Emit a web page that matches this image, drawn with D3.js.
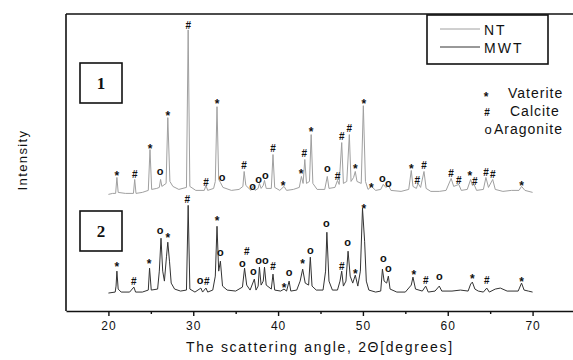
<!DOCTYPE html>
<html>
<head>
<meta charset="utf-8">
<script src="https://cdn.jsdelivr.net/npm/d3@7"></script>
<style>
  body { margin: 0; background: #fff; }
  svg { display: block; }
  text { font-family: "Liberation Sans", Arial, sans-serif; fill: #111; }
</style>
</head>
<body>
<div id="chart"></div>
<script>
// Series names and phase legend
const seriesNames = ["NT", "MWT"];
const phaseSymbols = ["*", "#", "o"];
const phaseNames = ["Vaterite", "Calcite", "Aragonite"];
const panelLabels = ["1", "2"];

// Axis ticks (2 theta, degrees)
const xTicks = [20, 30, 40, 50, 60, 70];
const xMinorTicks = [25, 35, 45, 55, 65];

// NT trace (upper), [2theta, intensity a.u.]
const ntPoints = [
  [20.0,117],[20.5,118],[20.85,118],[21.0,134],[21.15,119],[22.0,118],[22.95,118],[23.1,132],[23.25,118],
  [24.0,119],[24.7,121],[24.9,162],[25.1,122],[25.7,123],[26.0,124],[26.15,132],[26.3,125],[26.8,128],
  [27.0,194],[27.25,130],[27.6,125],[28.3,122],[29.2,124],[29.4,282],[29.6,125],[30.3,121],[31.3,121],
  [31.5,126],[31.7,121],[32.4,123],[32.6,130],[32.8,205],[33.0,132],[33.2,129],[33.5,124],[34.5,121],
  [35.4,122],[35.85,125],[36.0,140],[36.2,126],[36.8,121],[37.1,126],[37.3,121],[37.65,123],[37.8,128],
  [38.0,123],[38.25,126],[38.4,131],[38.6,123],[39.2,123],[39.4,157],[39.6,124],[40.2,121],[40.7,125],
  [41.0,121],[41.8,122],[42.5,124],[42.75,135],[42.95,128],[43.15,152],[43.35,128],[43.7,130],[43.9,177],
  [44.1,128],[44.6,122],[45.5,122],[45.8,135],[46.0,123],[46.7,124],[47.0,131],[47.2,127],[47.5,169],
  [47.7,128],[48.1,130],[48.4,177],[48.6,130],[48.9,134],[49.1,140],[49.3,130],[49.8,128],[50.05,206],
  [50.3,130],[50.6,122],[51.0,125],[51.5,121],[52.1,122],[52.4,127],[52.7,124],[53.0,126],[53.3,121],
  [54.5,120],[55.4,122],[55.7,141],[55.9,125],[56.3,123],[56.5,128],[56.8,124],[57.2,140],[57.45,123],
  [58.0,120],[59.0,120],[59.8,121],[60.4,133],[60.7,125],[61.3,127],[61.6,121],[62.3,122],[62.7,132],
  [62.9,126],[63.1,127],[63.4,121],[64.2,122],[64.5,134],[64.8,124],[65.3,132],[65.6,122],[66.5,120],
  [67.5,121],[68.4,121],[68.7,125],[69.1,121],[70.0,119]
];

// MWT trace (lower)
const mwtPoints = [
  [20.0,18],[20.8,19],[20.9,25],[21.0,40],[21.15,22],[21.5,19],[22.5,19],[23.0,24],[23.2,19],[24.0,19],
  [24.7,21],[24.85,43],[25.05,21],[25.8,22],[26.0,40],[26.2,73],[26.4,40],[26.6,30],[26.85,55],[27.0,69],
  [27.2,50],[27.4,28],[27.8,22],[28.5,20],[29.2,21],[29.4,106],[29.6,22],[30.2,19],[30.9,23],[31.1,19],
  [31.5,23],[31.7,19],[32.3,21],[32.6,35],[32.8,85],[33.0,40],[33.2,50],[33.45,25],[34.0,21],[35.0,20],
  [35.8,24],[36.05,43],[36.3,26],[36.7,21],[37.2,32],[37.4,21],[37.65,25],[37.8,44],[38.0,26],[38.25,30],
  [38.4,44],[38.6,26],[39.2,22],[39.4,37],[39.6,21],[40.3,20],[40.7,22],[41.0,20],[41.3,30],[41.5,20],
  [42.2,21],[42.6,30],[42.9,42],[43.2,28],[43.6,26],[43.8,54],[44.0,25],[44.5,21],[45.3,21],[45.6,40],
  [45.75,79],[46.0,30],[46.4,21],[47.0,21],[47.3,30],[47.5,40],[47.7,25],[48.0,30],[48.25,60],[48.5,35],
  [48.8,28],[49.1,36],[49.4,25],[49.7,40],[49.95,103],[50.2,70],[50.4,30],[50.7,21],[51.5,19],[52.1,20],
  [52.3,42],[52.5,30],[52.8,28],[53.0,35],[53.2,22],[54.0,19],[55.0,19],[55.7,26],[55.9,34],[56.2,22],
  [57.0,20],[57.4,25],[57.7,19],[58.5,20],[59.0,25],[59.3,20],[60.5,20],[61.5,21],[62.4,20],[62.7,27],
  [62.9,29],[63.2,22],[63.6,20],[64.2,19],[64.6,23],[64.9,19],[65.6,22],[66.2,23],[67.0,20],[68.3,20],
  [68.7,28],[69.0,21],[69.5,20],[70.0,19]
];

// Phase marks above peaks: [symbol, 2theta, level]
const ntMarks = [
  ["*",21.0,139],["#",23.1,137],["*",24.9,166],["o",26.1,139],["*",27.0,199],["#",29.4,287],
  ["#",31.5,129],["*",32.8,211],["o",33.4,133],["#",36.0,146],["o",37.0,124],["o",37.7,131],
  ["o",38.5,135],["#",39.4,163],["*",40.6,129],["*",42.7,141],["#",43.1,158],["*",43.9,183],
  ["o",45.8,142],["#",47.0,135],["#",47.5,175],["#",48.4,183],["*",49.1,146],["*",50.1,211],
  ["*",51.0,127],["o",52.3,132],["o",53.0,127],["*",55.7,146],["#",56.4,131],["#",57.2,146],
  ["#",60.4,138],["#",61.3,131],["*",62.6,139],["#",63.2,130],["#",64.5,139],["#",65.3,137],
  ["*",68.7,129]
];
const mwtMarks = [
  ["*",21.0,48],["#",23.0,30],["*",24.8,51],["o",26.1,80],["*",27.0,77],["#",29.3,112],
  ["o",30.8,30],["#",31.6,30],["*",32.8,94],["o",33.2,58],["#",36.3,60],["o",35.8,47],
  ["o",37.1,39],["o",37.7,50],["o",38.5,50],["#",39.4,45],["*",40.7,27],["o",41.3,38],
  ["*",42.9,51],["o",43.8,60],["o",45.7,87],["#",47.5,45],["o",48.2,68],["*",49.1,41],
  ["*",50.1,106],["o",52.4,52],["o",53.0,42],["*",56.0,40],["#",57.4,31],["o",59.0,34],
  ["*",62.9,36],["#",64.6,31],["*",68.7,33]
];

// Layout
const W = 573, H = 360;
const plotLeft = 66, plotTop = 14, plotBottom = 311;
const seriesColors = ["#a0a0a0", "#333333"];

// glyph styling per symbol: font size and baseline shift to centre the glyph
const glyph = {
  "*": { size: 12, dy: 0.62 },
  "#": { size: 10, dy: 0.36 },
  "o": { size: 11, dy: 0.27 }
};

const svg = d3.select("#chart").append("svg")
  .attr("width", W).attr("height", H);

const x = d3.scaleLinear().domain([15, 75]).range([plotLeft, 575]);
const y = d3.scaleLinear().domain([0, 298]).range([plotBottom, plotTop]);

const line = d3.line().x(d => x(d[0])).y(d => y(d[1]));

// traces
[ntPoints, mwtPoints].forEach((pts, i) => {
  svg.append("path")
    .datum(pts)
    .attr("d", line)
    .attr("fill", "none")
    .attr("stroke", seriesColors[i])
    .attr("stroke-width", 1)
    .attr("stroke-linejoin", "round");
});

// phase marks
function drawMarks(marks) {
  svg.append("g").selectAll("text")
    .data(marks)
    .enter()
    .append("text")
    .attr("x", d => x(d[1]))
    .attr("y", d => y(d[2]) + glyph[d[0]].size * glyph[d[0]].dy)
    .attr("text-anchor", "middle")
    .style("font-size", d => glyph[d[0]].size + "px")
    .style("font-weight", "bold")
    .text(d => d[0]);
}
drawMarks(ntMarks);
drawMarks(mwtMarks);

// frame: top and left border, bottom axis
const frame = svg.append("g").attr("stroke", "#111").attr("stroke-width", 1.6).attr("fill", "none");
frame.append("line").attr("x1", plotLeft).attr("x2", W).attr("y1", plotTop).attr("y2", plotTop);
frame.append("line").attr("x1", plotLeft).attr("x2", plotLeft).attr("y1", plotTop).attr("y2", plotBottom);

const xAxis = svg.append("g")
  .attr("transform", `translate(0,${plotBottom})`)
  .call(d3.axisBottom(x).tickValues(xTicks).tickSize(5).tickSizeOuter(0).tickPadding(5));
xAxis.select(".domain").attr("stroke", "#111").attr("stroke-width", 1.6);
xAxis.selectAll(".tick line").attr("stroke", "#111").attr("stroke-width", 1.4);
xAxis.selectAll(".tick text")
  .style("font-size", "12px")
  .style("letter-spacing", "1px")
  .style("font-family", "'Liberation Sans', Arial, sans-serif")
  .attr("fill", "#222");

const minor = svg.append("g")
  .attr("transform", `translate(0,${plotBottom})`)
  .call(d3.axisBottom(x).tickValues(xMinorTicks).tickSize(3).tickFormat(""));
minor.select(".domain").remove();
minor.selectAll(".tick line").attr("stroke", "#111").attr("stroke-width", 1.4);

// axis titles
svg.append("text")
  .attr("x", 320).attr("y", 352)
  .attr("text-anchor", "middle")
  .style("font-size", "14px")
  .style("letter-spacing", "1.7px")
  .text("The scattering angle, 2\u0398[degrees]");

svg.append("text")
  .attr("transform", "translate(27,160) rotate(-90)")
  .attr("text-anchor", "middle")
  .style("font-size", "13px")
  .style("letter-spacing", "1.4px")
  .text("Intensity");

// panel labels
const panelY = [63, 211];
panelLabels.forEach((lab, i) => {
  svg.append("rect")
    .attr("x", 80).attr("y", panelY[i])
    .attr("width", 42).attr("height", 40)
    .attr("fill", "none").attr("stroke", "#111").attr("stroke-width", 1.6);
  svg.append("text")
    .attr("x", 101).attr("y", panelY[i] + 26)
    .attr("text-anchor", "middle")
    .style("font-family", "'Liberation Serif', 'Times New Roman', serif")
    .style("font-weight", "bold")
    .style("font-size", "17px")
    .text(lab);
});

// series legend
const lg = svg.append("g");
lg.append("rect")
  .attr("x", 427).attr("y", 15).attr("width", 121).attr("height", 49)
  .attr("fill", "#fff").attr("stroke", "#111").attr("stroke-width", 1.6);
seriesNames.forEach((name, i) => {
  const ly = 29 + i * 18;
  lg.append("line")
    .attr("x1", 440).attr("x2", 480).attr("y1", ly).attr("y2", ly)
    .attr("stroke", seriesColors[i]).attr("stroke-width", 1);
  lg.append("text")
    .attr("x", 484).attr("y", ly + 6)
    .style("font-size", "14px")
    .style("letter-spacing", "2px")
    .text(name);
});

// phase legend
const phaseTextX = [508, 510, 494];
const phaseSymX = [486, 487, 488];
phaseNames.forEach((name, i) => {
  const base = 98 + i * 18;
  const s = phaseSymbols[i];
  svg.append("text")
    .attr("x", phaseSymX[i])
    .attr("y", s === "o" ? base : base - 4 + glyph[s].size * glyph[s].dy)
    .attr("text-anchor", "middle")
    .style("font-size", (s === "o" ? 13 : glyph[s].size) + "px")
    .style("font-weight", s === "o" ? "normal" : "bold")
    .text(s);
  svg.append("text")
    .attr("x", phaseTextX[i]).attr("y", base)
    .style("font-size", "14px")
    .style("letter-spacing", "1px")
    .text(name);
});
</script>
</body>
</html>
